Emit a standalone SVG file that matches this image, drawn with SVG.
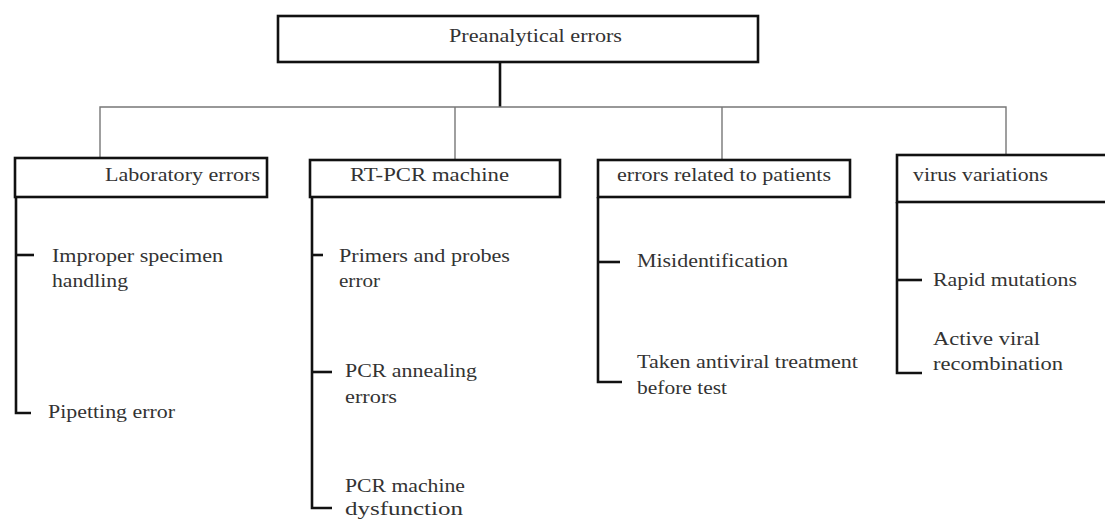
<svg xmlns="http://www.w3.org/2000/svg" width="1105" height="520" viewBox="0 0 1105 520">
<style>
.box{fill:#fff;stroke:#111;stroke-width:2.6}
.thin{fill:none;stroke:#777;stroke-width:1.4}
.thick{fill:none;stroke:#111;stroke-width:2.6}
.t{font-family:'Liberation Serif','DejaVu Serif','Times New Roman',serif;font-size:19px;fill:#333}
</style>
<rect width="1105" height="520" fill="#fff"/>
<g id="connectors">
<line class="thick" x1="500" y1="62" x2="500" y2="107"/>
<polyline class="thin" points="100,158 100,107 1006,107 1006,155"/>
<line class="thin" x1="455" y1="107" x2="455" y2="160"/>
<line class="thin" x1="722" y1="107" x2="722" y2="160"/>
<polyline class="thick" points="16,197 16,413 31,413"/>
<line class="thick" x1="16" y1="255" x2="34" y2="255"/>
<polyline class="thick" points="312,197 312,508 332,508"/>
<line class="thick" x1="312" y1="255" x2="323" y2="255"/>
<line class="thick" x1="312" y1="372" x2="332" y2="372"/>
<polyline class="thick" points="598,197 598,382 622,382"/>
<line class="thick" x1="598" y1="262" x2="620" y2="262"/>
<polyline class="thick" points="897,202 897,373 922,373"/>
<line class="thick" x1="897" y1="280" x2="922" y2="280"/>
</g>
<g class="t" font-family="Liberation Serif, DejaVu Serif, serif">
<g id="root">
<rect class="box" x="278" y="16" width="480" height="46"/>
<text x="449" y="42" textLength="173" lengthAdjust="spacingAndGlyphs">Preanalytical errors</text>
</g>
<g id="lab">
<rect class="box" x="15" y="158" width="252" height="39"/>
<text x="105" y="181" textLength="155" lengthAdjust="spacingAndGlyphs">Laboratory errors</text>
</g>
<g id="rtpcr">
<rect class="box" x="310" y="160" width="250" height="37"/>
<text x="350" y="181" textLength="159" lengthAdjust="spacingAndGlyphs">RT-PCR machine</text>
</g>
<g id="patients">
<rect class="box" x="598" y="160" width="252" height="37"/>
<text x="617" y="181" textLength="214" lengthAdjust="spacingAndGlyphs">errors related to patients</text>
</g>
<g id="virus">
<rect class="box" x="897" y="155" width="215" height="47"/>
<text x="913" y="181" textLength="135" lengthAdjust="spacingAndGlyphs">virus variations</text>
</g>
<g id="improper">
<text x="52" y="262" textLength="171" lengthAdjust="spacingAndGlyphs">Improper specimen</text>
<text x="52" y="287" textLength="76" lengthAdjust="spacingAndGlyphs">handling</text>
</g>
<g id="pipetting">
<text x="48" y="418" textLength="127" lengthAdjust="spacingAndGlyphs">Pipetting error</text>
</g>
<g id="primers">
<text x="339" y="262" textLength="171" lengthAdjust="spacingAndGlyphs">Primers and probes</text>
<text x="339" y="287" textLength="41" lengthAdjust="spacingAndGlyphs">error</text>
</g>
<g id="annealing">
<text x="345" y="377" textLength="132" lengthAdjust="spacingAndGlyphs">PCR annealing</text>
<text x="345" y="403" textLength="52" lengthAdjust="spacingAndGlyphs">errors</text>
</g>
<g id="dysfunction">
<text x="345" y="492" textLength="120" lengthAdjust="spacingAndGlyphs">PCR machine</text>
<text x="345" y="515" textLength="118" lengthAdjust="spacingAndGlyphs">dysfunction</text>
</g>
<g id="misid">
<text x="637" y="267" textLength="151" lengthAdjust="spacingAndGlyphs">Misidentification</text>
</g>
<g id="antiviral">
<text x="637" y="368" textLength="221" lengthAdjust="spacingAndGlyphs">Taken antiviral treatment</text>
<text x="637" y="394" textLength="90" lengthAdjust="spacingAndGlyphs">before test</text>
</g>
<g id="rapid">
<text x="933" y="286" textLength="144" lengthAdjust="spacingAndGlyphs">Rapid mutations</text>
</g>
<g id="recomb">
<text x="933" y="345" textLength="107" lengthAdjust="spacingAndGlyphs">Active viral</text>
<text x="933" y="370" textLength="130" lengthAdjust="spacingAndGlyphs">recombination</text>
</g>
</g>
</svg>
